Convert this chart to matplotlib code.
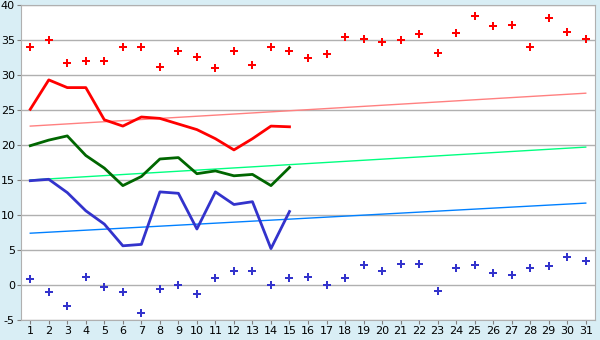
import matplotlib
matplotlib.use('Agg')
import matplotlib.pyplot as plt

plt.rcParams['axes.unicode_minus'] = False

days = list(range(1, 32))

# daily max / min points
hi_pts = [34, 35, 31.7, 32, 32, 34, 34, 31.2, 33.4, 32.6,
          31, 33.5, 31.4, 34, 33.4, 32.5, 33, 35.4, 35.2, 34.7,
          35, 35.8, 33.2, 36, 38.5, 37, 37.2, 34, 38.2, 36.2, 35.2]
lo_pts = [0.8, -1, -3, 1.1, -0.3, -1, -4, -0.5, 0, -1.3,
          1, 2, 2, 0, 1, 1.1, 0, 1, 2.8, 2,
          3, 3, -0.8, 2.5, 2.8, 1.7, 1.4, 2.4, 2.7, 4, 3.5]

# measured lines, first 15 days
line_days = days[:15]
red_line = [25.1, 29.3, 28.2, 28.2, 23.6, 22.7, 24, 23.8, 23, 22.2,
            20.9, 19.3, 20.9, 22.7, 22.6]
green_line = [19.9, 20.7, 21.3, 18.5, 16.7, 14.2, 15.5, 18, 18.2, 15.9,
              16.3, 15.6, 15.8, 14.2, 16.8]
blue_line = [14.9, 15.1, 13.2, 10.6, 8.7, 5.6, 5.8, 13.3, 13.1, 8,
             13.3, 11.5, 11.9, 5.2, 10.5]

# normals (start / end of month)
trend_days = [1, 31]
red_trend = [22.7, 27.4]
green_trend = [15.0, 19.7]
blue_trend = [7.4, 11.7]

fig = plt.figure(figsize=(6, 3.4), dpi=100, facecolor='#d9eef5')
ax = fig.add_axes([21/600, 20/340, 574/600, 315/340])
ax.set_facecolor('white')

ax.plot(trend_days, red_trend, color='#ff8080', lw=1)
ax.plot(trend_days, green_trend, color='#00ff80', lw=1)
ax.plot(trend_days, blue_trend, color='#0080ff', lw=1)

ax.plot(line_days, red_line, color='#ff0000', lw=2)
ax.plot(line_days, green_line, color='#006600', lw=2)
ax.plot(line_days, blue_line, color='#3333cc', lw=2)

ax.plot(days, hi_pts, 'P', color='#ff0000', ms=5.5, mew=0, ls='none')
ax.plot(days, lo_pts, 'P', color='#3333cc', ms=5.5, mew=0, ls='none')

ax.set_xlim(0.5, 31.5)
ax.set_ylim(-5, 40)
ax.set_xticks(days)
ax.set_yticks(range(-5, 41, 5))
ax.yaxis.grid(True, color='#b0b0b0', lw=1)
ax.set_axisbelow(True)
for s in ax.spines.values():
    s.set_color('#b0b0b0')
ax.tick_params(colors='#808080', labelcolor='black', labelsize=8, length=3, pad=1.5)

fig.savefig('out.png', dpi=100, facecolor=fig.get_facecolor())
